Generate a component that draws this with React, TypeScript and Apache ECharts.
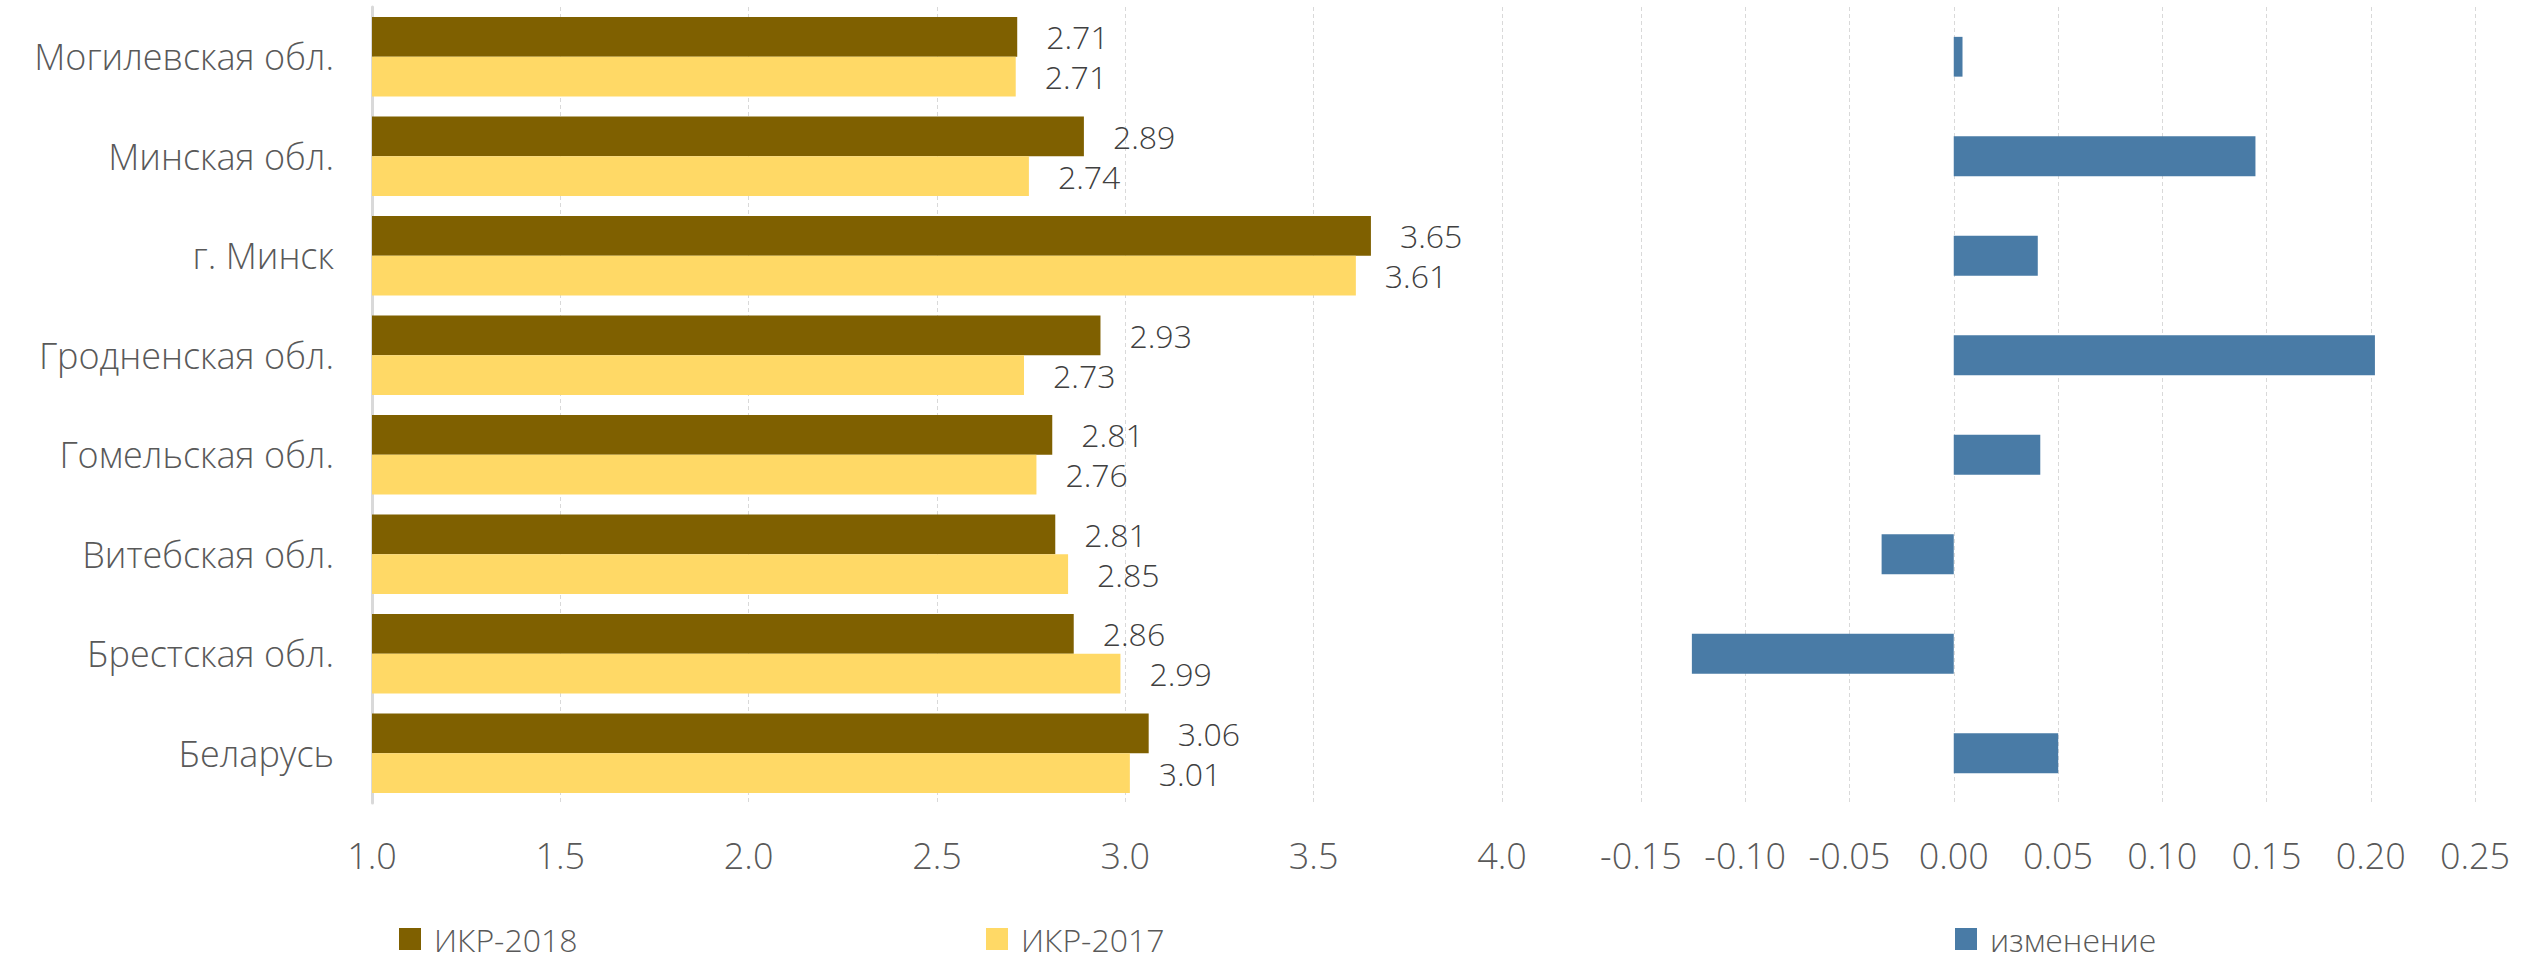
import React, { useEffect, useRef } from "react";
import * as echarts from "echarts";

const categories = [
  "Беларусь",
  "Брестская обл.",
  "Витебская обл.",
  "Гомельская обл.",
  "Гродненская обл.",
  "г. Минск",
  "Минская обл.",
  "Могилевская обл.",
];
const ikr2018 = [3.062, 2.863, 2.814, 2.806, 2.934, 3.652, 2.89, 2.713];
const ikr2017 = [3.012, 2.987, 2.848, 2.764, 2.731, 3.612, 2.744, 2.709];
const change = [0.0501, -0.1256, -0.0346, 0.0415, 0.202, 0.0403, 0.1447, 0.0042];

const FONT = "'Open Sans', sans-serif";
const GRID_COLOR = "#d9d9d9";
const LABEL_COLOR = "#595959";

export default function App() {
  const ref = useRef<HTMLDivElement>(null);
  useEffect(() => {
    if (!ref.current) return;
    const chart = echarts.init(ref.current, undefined, { renderer: "svg" });
    const valueLabel = {
      show: true,
      position: "right",
      distance: 29,
      fontSize: 32,
      lineHeight: 32,
      fontFamily: FONT,
      fontWeight: 300,
      color: "#404040",
      formatter: (p: any) => Number(p.value).toFixed(2),
    };
    const legendText = {
      fontSize: 32,
      lineHeight: 32,
      fontFamily: FONT,
      fontWeight: 300,
      color: LABEL_COLOR,
      padding: [0, 0, 0, 8],
    };
    chart.setOption({
      animation: false,
      backgroundColor: "#ffffff",
      textStyle: { fontFamily: FONT },
      legend: [
        { data: ["ИКР-2018"], left: 399, top: 923, padding: 0, itemWidth: 22, itemHeight: 22, icon: "rect", textStyle: legendText },
        { data: ["ИКР-2017"], left: 986, top: 923, padding: 0, itemWidth: 22, itemHeight: 22, icon: "rect", textStyle: legendText },
        { data: ["изменение"], left: 1955, top: 923, padding: 0, itemWidth: 22, itemHeight: 22, icon: "rect", textStyle: legendText },
      ],
      grid: [
        { left: 372, right: 1024, top: 7, bottom: 159, containLabel: false },
        { left: 1641, right: 51, top: 7, bottom: 159, containLabel: false },
      ],
      xAxis: [
        {
          type: "value",
          gridIndex: 0,
          min: 1,
          max: 4,
          interval: 0.5,
          axisLine: { show: false },
          axisTick: { show: false },
          splitLine: { show: true, lineStyle: { color: GRID_COLOR, type: [4, 3], width: 1 } },
          axisLabel: {
            fontSize: 36,
            fontFamily: FONT,
            fontWeight: 300,
            color: LABEL_COLOR,
            margin: 34,
            formatter: (v: number) => v.toFixed(1),
          },
        },
        {
          type: "value",
          gridIndex: 1,
          min: -0.15,
          max: 0.25,
          interval: 0.05,
          axisLine: { show: false },
          axisTick: { show: false },
          splitLine: { show: true, lineStyle: { color: GRID_COLOR, type: [4, 3], width: 1 } },
          axisLabel: {
            fontSize: 36,
            fontFamily: FONT,
            fontWeight: 300,
            color: LABEL_COLOR,
            margin: 34,
            formatter: (v: number) => v.toFixed(2),
          },
        },
      ],
      yAxis: [
        {
          type: "category",
          gridIndex: 0,
          data: categories,
          axisLine: { show: true, lineStyle: { color: GRID_COLOR, width: 3 } },
          axisTick: { show: false },
          axisLabel: {
            fontSize: 36,
            fontFamily: FONT,
            fontWeight: 300,
            color: LABEL_COLOR,
            margin: 38,
          },
        },
        {
          type: "category",
          gridIndex: 1,
          data: categories,
          axisLine: { show: false },
          axisTick: { show: false },
          axisLabel: { show: false },
        },
      ],
      series: [
        {
          name: "ИКР-2018",
          type: "bar",
          xAxisIndex: 0,
          yAxisIndex: 0,
          data: ikr2018,
          itemStyle: { color: "#7f6000" },
          barGap: "0%",
          barCategoryGap: "20%",
          label: valueLabel,
        },
        {
          name: "ИКР-2017",
          type: "bar",
          xAxisIndex: 0,
          yAxisIndex: 0,
          data: ikr2017,
          itemStyle: { color: "#ffd966" },
          barGap: "0%",
          barCategoryGap: "20%",
          label: valueLabel,
        },
        {
          name: "изменение",
          type: "bar",
          xAxisIndex: 1,
          yAxisIndex: 1,
          data: change,
          itemStyle: { color: "#497ba6" },
          barWidth: "40%",
        },
      ],
    });
    return () => chart.dispose();
  }, []);
  return (
    <div
      ref={ref}
      style={{ position: "fixed", left: 0, top: 0, width: 2526, height: 962, background: "#fff" }}
    />
  );
}
